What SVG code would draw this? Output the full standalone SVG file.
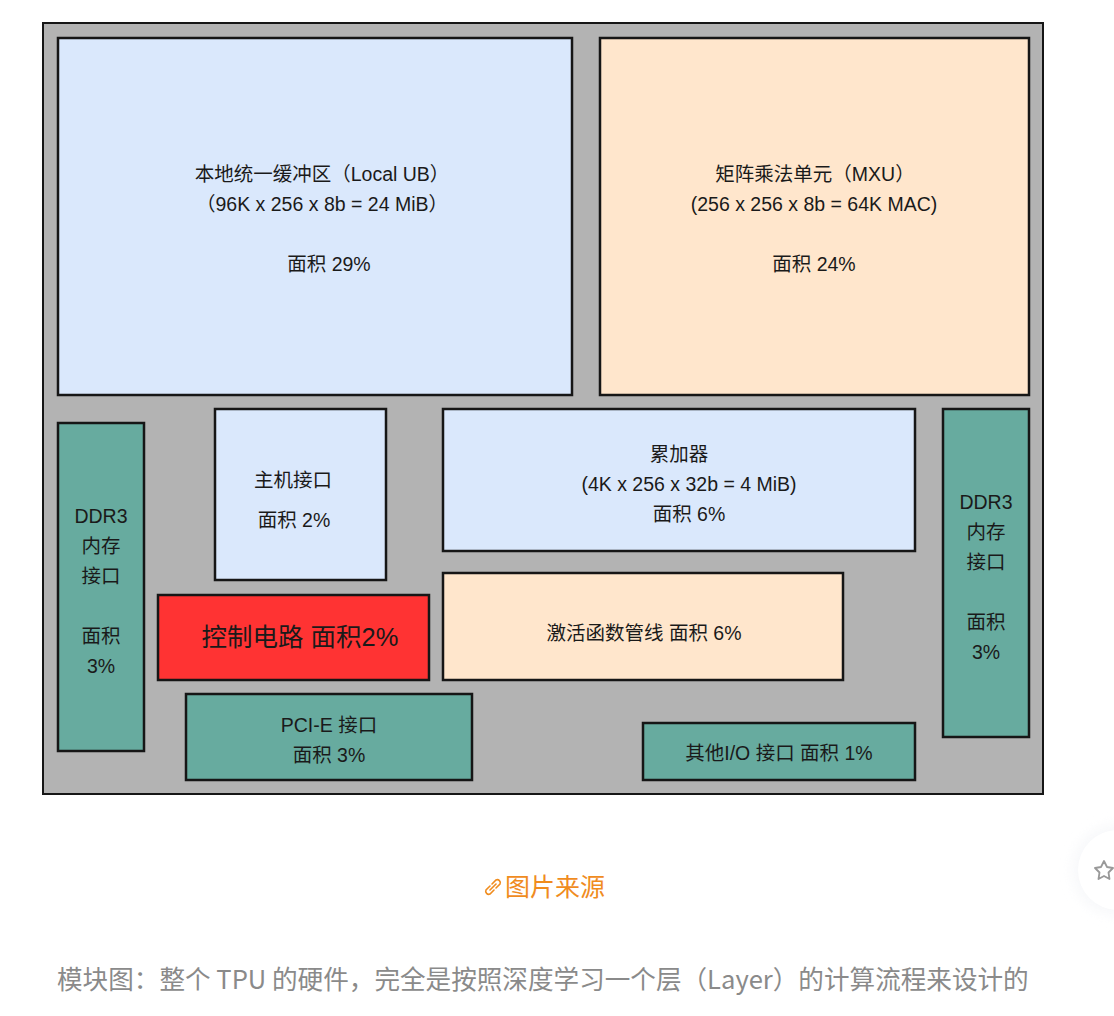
<svg xmlns="http://www.w3.org/2000/svg" width="1114" height="1016" viewBox="0 0 1114 1016">
<defs>
<style>
.b{stroke:#161616;stroke-width:2.5}
.blue{fill:#dae8fc}
.peach{fill:#ffe6cc}
.teal{fill:#67ab9f}
.red{fill:#ff3333}
.t{font-family:"Liberation Sans","Noto Sans CJK SC",sans-serif;font-size:19.5px;fill:#1a1a1a;text-anchor:middle}
.cap{font-family:"Noto Sans CJK SC","Noto Sans",sans-serif;fill:#8a8a8a;font-size:25.6px}
</style>
<filter id="sh" x="-50%" y="-50%" width="200%" height="200%"><feGaussianBlur stdDeviation="6"/></filter>
</defs>
<rect width="1114" height="1016" fill="#ffffff"/>
<g id="chip"><rect x="43" y="23" width="1000" height="771" fill="#b3b3b3" stroke="#161616" stroke-width="2"/></g>
<g id="connectors"></g>
<g id="localub">
<rect class="b blue" x="58" y="38" width="514" height="357"/>
<text class="t" x="322" y="181">本地统一缓冲区（Local UB）</text>
<text class="t" x="322" y="211">（96K x 256 x 8b = 24 MiB）</text>
<text class="t" x="329" y="271">面积 29%</text>
</g>
<g id="mxu">
<rect class="b peach" x="600" y="38" width="429" height="357"/>
<text class="t" x="815" y="181">矩阵乘法单元（MXU）</text>
<text class="t" x="814" y="211">(256 x 256 x 8b = 64K MAC)</text>
<text class="t" x="814" y="271">面积 24%</text>
</g>
<g id="ddr3left">
<rect class="b teal" x="58" y="423" width="86" height="328"/>
<text class="t" x="101" y="523">DDR3</text>
<text class="t" x="101" y="553">内存</text>
<text class="t" x="101" y="583">接口</text>
<text class="t" x="101" y="643">面积</text>
<text class="t" x="101" y="673">3%</text>
</g>
<g id="host">
<rect class="b blue" x="215" y="409" width="171" height="171"/>
<text class="t" x="293" y="487">主机接口</text>
<text class="t" x="294" y="527">面积 2%</text>
</g>
<g id="accum">
<rect class="b blue" x="443" y="409" width="472" height="142"/>
<text class="t" x="679" y="461">累加器</text>
<text class="t" x="689" y="491">(4K x 256 x 32b = 4 MiB)</text>
<text class="t" x="689" y="521">面积 6%</text>
</g>
<g id="ddr3right">
<rect class="b teal" x="943" y="409" width="86" height="328"/>
<text class="t" x="986" y="509">DDR3</text>
<text class="t" x="986" y="539">内存</text>
<text class="t" x="986" y="569">接口</text>
<text class="t" x="986" y="629">面积</text>
<text class="t" x="986" y="659">3%</text>
</g>
<g id="control">
<rect class="b red" x="158" y="595" width="271" height="85"/>
<text class="t" x="300" y="646" style="font-size:25.5px">控制电路 面积2%</text>
</g>
<g id="activation">
<rect class="b peach" x="443" y="573" width="400" height="107"/>
<text class="t" x="644" y="640">激活函数管线 面积 6%</text>
</g>
<g id="pcie">
<rect class="b teal" x="186" y="694" width="286" height="86"/>
<text class="t" x="329" y="732">PCI-E 接口</text>
<text class="t" x="329" y="762">面积 3%</text>
</g>
<g id="otherio">
<rect class="b teal" x="643" y="723" width="272" height="57"/>
<text class="t" x="779" y="760">其他I/O 接口 面积 1%</text>
</g>
<g id="source">
<g fill="none" stroke="#f08c1e" stroke-width="1.6" stroke-linecap="round">
<path d="M490 886 l-4 4 a3 3 0 0 0 4 4 l4 -4"/>
<path d="M492 884 l4 -4 a3 3 0 0 1 4 4 l-4 4"/>
<path d="M490 890 l6 -6"/>
</g>
<text x="505" y="896" font-family="'Noto Sans CJK SC',sans-serif" font-size="25" fill="#f08c1e">图片来源</text>
</g>
<g id="caption">
<text class="cap" x="57" y="989">模块图：整个 TPU 的硬件，完全是按照深度学习一个层（Layer）的计算流程来设计的</text>
</g>
<g id="star">
<circle cx="1118" cy="870" r="46" fill="#f3f4f7" filter="url(#sh)" opacity="0.6"/>
<circle cx="1118" cy="870" r="40" fill="#ffffff"/>
<path d="M1104 861 l3 6 6 1 -4.5 4.5 1 6.5 -5.5 -3 -5.5 3 1 -6.5 -4.5 -4.5 6 -1z" fill="none" stroke="#999" stroke-width="1.8" stroke-linejoin="round"/>
</g>
</svg>
